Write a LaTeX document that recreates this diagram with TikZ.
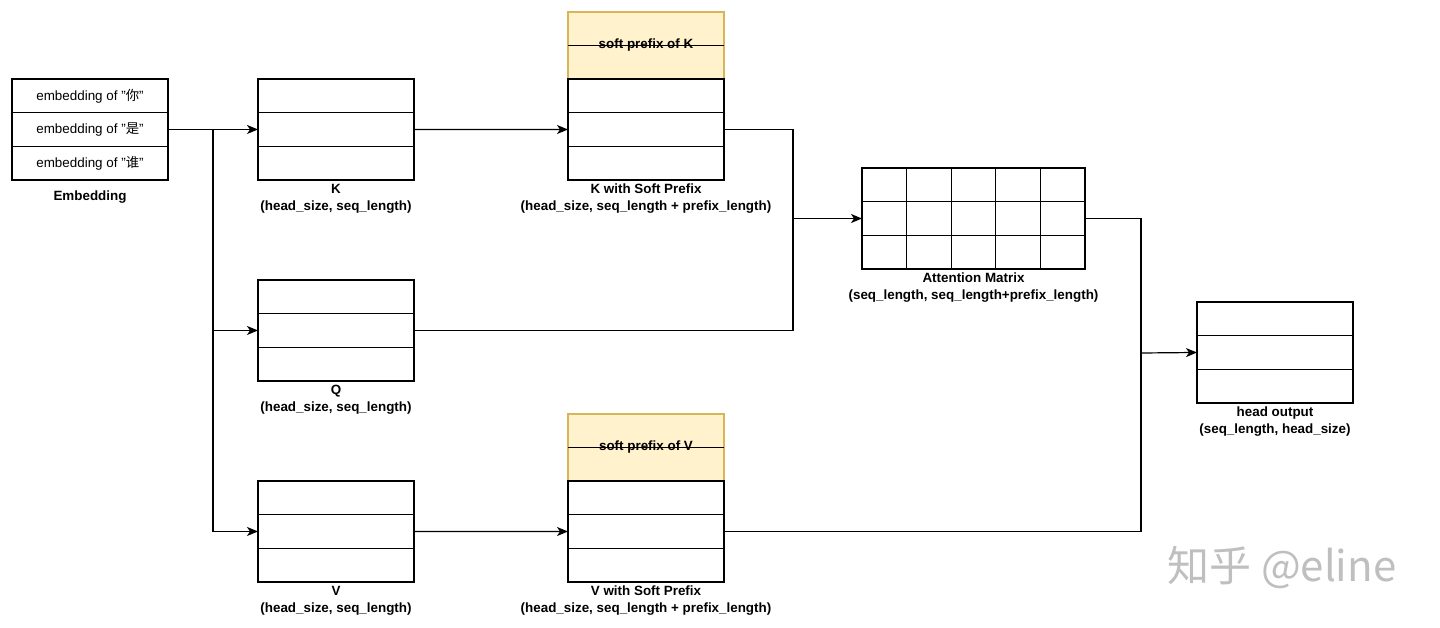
\documentclass[tikz,border=0pt]{standalone}
\usepackage{fontspec}
\setmainfont{Liberation Sans}
\newfontfamily\cjk{Noto Sans CJK SC}
\usetikzlibrary{arrows.meta, positioning, calc}

\definecolor{softfill}{HTML}{FFF2CC}
\definecolor{softline}{HTML}{D6B656}

\tikzset{
  cell/.style={draw, line width=1.2pt, minimum width=156pt, minimum height=33.67pt, inner sep=0pt, outer sep=0pt, font=\fontsize{13.4}{16}\selectfont},
  softbox/.style={cell, fill=softfill, draw=softline, minimum height=67pt, font=\bfseries\fontsize{13.4}{16}\selectfont},
  lbl/.style={anchor=north, align=center, inner sep=0pt, font=\bfseries\fontsize{13.4}{17}\selectfont},
  arr/.style={line width=1.2pt, -{Stealth[length=11pt, width=9pt, inset=3pt]}},
  wire/.style={line width=1.2pt}
}

\begin{document}
\begin{tikzpicture}[x=1pt, y=-1pt]
\useasboundingbox (0,0) rectangle (1440,627);

% Draw the embedding
\node[cell] (emb1) at (90,95.8) {embedding of "{\cjk 你}"};
\node[cell, below=0pt of emb1] (emb2) {embedding of "{\cjk 是}"};
\node[cell, below=0pt of emb2] (emb3) {embedding of "{\cjk 谁}"};
\node[lbl, below=11pt of emb3] (embl) {Embedding};

% Draw K, Q and V
\foreach \m/\y/\t in {k/95.8/K, q/296.8/Q, v/497.8/V}{
  \node[cell] (\m1) at (336,\y) {};
  \node[cell, below=0pt of \m1] (\m2) {};
  \node[cell, below=0pt of \m2] (\m3) {};
  \node[lbl, below=4pt of \m3] (\m l) {\t\\(head\_size, seq\_length)};
}

% Draw K and V with the soft prefix
\foreach \m/\y/\t in {kp/45.5/K, vp/447.5/V}{
  \node[softbox] (\m0) at (646,\y) {soft prefix of \t};
  \draw[line width=1.1pt] (\m0.west) -- (\m0.east);
  \node[cell, below=0pt of \m0] (\m1) {};
  \node[cell, below=0pt of \m1] (\m2) {};
  \node[cell, below=0pt of \m2] (\m3) {};
  \node[lbl, below=4pt of \m3] (\m l) {\t\ with Soft Prefix\\(head\_size, seq\_length + prefix\_length)};
}

% Draw the attention matrix
\node[draw, line width=1.2pt, minimum width=223pt, minimum height=101pt, inner sep=0pt, outer sep=0pt] (att) at (973.5,218.5) {};
\foreach \i in {1,...,4}
  \draw[line width=1.2pt] ($(att.north west)!\i/5!(att.north east)$) -- ($(att.south west)!\i/5!(att.south east)$);
\foreach \j in {1,2}
  \draw[line width=1.2pt] ($(att.north west)!\j/3!(att.south west)$) -- ($(att.north east)!\j/3!(att.south east)$);
\node[lbl, below=4pt of att] (attl) {Attention Matrix\\(seq\_length, seq\_length+prefix\_length)};

% Draw the head output
\node[cell] (out1) at (1275,318.8) {};
\node[cell, below=0pt of out1] (out2) {};
\node[cell, below=0pt of out2] (out3) {};
\node[lbl, below=4pt of out3] (outl) {head output\\(seq\_length, head\_size)};

% Draw the connections
\coordinate (fork) at ($(emb2.east)!0.5!(k2.west)$);
\coordinate (kq) at (793,218.5);
\coordinate (ov) at (1141,353);
\draw[arr] (emb2.east) -- (k2.west);
\draw[arr] (fork) |- (q2.west);
\draw[arr] (fork) |- (v2.west);
\draw[arr] (k2.east) -- (kp2.west);
\draw[arr] (v2.east) -- (vp2.west);
\draw[wire] (kp2.east) -| (kq);
\draw[wire] (q2.east) -| (kq);
\draw[arr] (kq) -- (att.west);
\draw[wire] (att.east) -| (ov);
\draw[wire] (vp2.east) -| (ov);
\draw[arr] (ov) -- (out2.west);

% Watermark
\node[text=black!25, font=\cjk\fontsize{42}{42}\selectfont] (mark) at (1282,567) {知乎 @eline};
\end{tikzpicture}
\end{document}
